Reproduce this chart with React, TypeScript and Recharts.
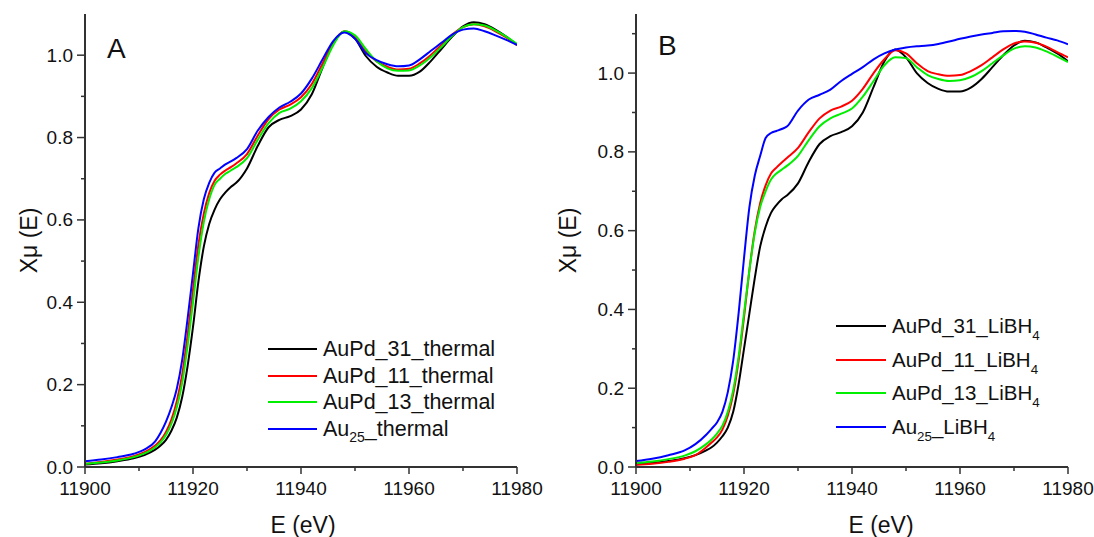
import React from "react";
import { LineChart, Line, XAxis, YAxis } from "recharts";

const energy = [
  11900, 11903, 11906, 11909, 11911, 11913, 11914, 11915, 11916, 11917, 11918, 11919, 11920,
  11921, 11922, 11923, 11924, 11925, 11926, 11927, 11928, 11930, 11932, 11934, 11936, 11938,
  11940, 11942, 11944, 11946, 11948, 11950, 11952, 11954, 11956, 11958, 11960, 11962, 11964,
  11966, 11968, 11970, 11972, 11974, 11976, 11978, 11980,
];

// panel A — thermal
const auPd31Thermal = [
  0.006, 0.009, 0.014, 0.021, 0.029, 0.042, 0.052, 0.066, 0.088, 0.12, 0.17, 0.245, 0.34,
  0.45, 0.535, 0.59, 0.625, 0.65, 0.667, 0.68, 0.69, 0.725, 0.78, 0.825, 0.843, 0.852,
  0.868, 0.905, 0.97, 1.03, 1.057, 1.04, 0.998, 0.972, 0.958, 0.95, 0.95, 0.96, 0.985,
  1.015, 1.045, 1.07, 1.08, 1.075, 1.062, 1.045, 1.025,
];
const auPd11Thermal = [
  0.008, 0.012, 0.018, 0.026, 0.036, 0.052, 0.065, 0.085, 0.115, 0.16, 0.225, 0.32, 0.43,
  0.54, 0.615, 0.665, 0.695, 0.71, 0.72, 0.728, 0.737, 0.76, 0.805, 0.845, 0.868, 0.88,
  0.898, 0.93, 0.98, 1.03, 1.058, 1.045, 1.01, 0.985, 0.972, 0.965, 0.967, 0.98, 1.0,
  1.025, 1.05, 1.068, 1.075, 1.07, 1.058, 1.043, 1.025,
];
const auPd13Thermal = [
  0.008, 0.011, 0.016, 0.024, 0.033, 0.048, 0.06, 0.078, 0.105, 0.145, 0.205, 0.295, 0.4,
  0.51, 0.595, 0.65, 0.685, 0.7, 0.712, 0.72, 0.728, 0.75, 0.795, 0.835, 0.86, 0.87,
  0.888, 0.92, 0.97, 1.025, 1.058, 1.048, 1.015, 0.985, 0.968, 0.962, 0.963, 0.975, 0.995,
  1.02, 1.047, 1.068, 1.075, 1.072, 1.06, 1.045, 1.027,
];
const au25Thermal = [
  0.014, 0.018, 0.024, 0.032, 0.042, 0.062, 0.083, 0.11, 0.145, 0.19, 0.26, 0.36, 0.47,
  0.58, 0.65, 0.69, 0.715, 0.725, 0.735, 0.742, 0.75, 0.772, 0.817, 0.85, 0.873, 0.887,
  0.907, 0.943, 0.99, 1.035, 1.055, 1.04, 1.005, 0.988, 0.978, 0.973, 0.975, 0.99, 1.01,
  1.03, 1.05, 1.062, 1.065, 1.058, 1.048, 1.037, 1.025,
];

// panel B — LiBH4
const auPd31LiBH4 = [
  0.008, 0.01, 0.015, 0.022, 0.03, 0.042, 0.05, 0.062, 0.078, 0.1, 0.14, 0.21, 0.3,
  0.39, 0.48, 0.56, 0.61, 0.645, 0.665, 0.68, 0.69, 0.72, 0.775, 0.82, 0.84, 0.85,
  0.865, 0.9, 0.965, 1.03, 1.06, 1.04, 1.0, 0.975, 0.96, 0.953, 0.953, 0.963, 0.985,
  1.015, 1.045, 1.07, 1.082, 1.078, 1.065, 1.05, 1.03,
];
const auPd11LiBH4 = [
  0.005, 0.008, 0.013, 0.021, 0.03, 0.05, 0.062, 0.075, 0.095, 0.13, 0.185, 0.27, 0.38,
  0.5, 0.6, 0.67, 0.715, 0.745, 0.76, 0.773, 0.785, 0.81, 0.85, 0.885, 0.905, 0.915,
  0.93, 0.96, 1.0, 1.035, 1.058, 1.05, 1.025, 1.005, 0.997, 0.993, 0.995, 1.005, 1.02,
  1.04, 1.06, 1.075, 1.08, 1.077, 1.067, 1.053, 1.04,
];
const auPd13LiBH4 = [
  0.01, 0.014, 0.02, 0.029, 0.04, 0.058, 0.07, 0.085, 0.105, 0.14, 0.195, 0.28, 0.39,
  0.5, 0.595, 0.66, 0.7, 0.73, 0.745, 0.755, 0.765, 0.79, 0.83, 0.865, 0.885, 0.897,
  0.91, 0.94, 0.98, 1.02, 1.04, 1.038, 1.015, 0.995, 0.985, 0.98, 0.982, 0.99, 1.005,
  1.025, 1.045, 1.062, 1.068, 1.065, 1.055, 1.042, 1.028,
];
const au25LiBH4 = [
  0.015, 0.021, 0.03, 0.042, 0.058, 0.082, 0.097, 0.113, 0.14, 0.19, 0.27, 0.39, 0.53,
  0.66, 0.74, 0.79, 0.835, 0.848, 0.853, 0.858, 0.865, 0.905, 0.933, 0.945, 0.958, 0.98,
  0.998, 1.015, 1.035, 1.05, 1.06, 1.065, 1.068, 1.07, 1.074, 1.08, 1.087, 1.093, 1.098,
  1.102, 1.106, 1.107, 1.105, 1.098, 1.09, 1.083, 1.073,
];

const xTicks = [11900, 11910, 11920, 11930, 11940, 11950, 11960, 11970, 11980];
const yTicksA = [0, 0.1, 0.2, 0.3, 0.4, 0.5, 0.6, 0.7, 0.8, 0.9, 1.0];
const yTicksB = [0, 0.1, 0.2, 0.3, 0.4, 0.5, 0.6, 0.7, 0.8, 0.9, 1.0, 1.1];

const colors = ["#000000", "#ff0000", "#00ee00", "#0000ff"];
const keys = ["s31", "s11", "s13", "s25"];

const rowsA = energy.map((e, i) => ({
  e,
  s31: auPd31Thermal[i],
  s11: auPd11Thermal[i],
  s13: auPd13Thermal[i],
  s25: au25Thermal[i],
}));
const rowsB = energy.map((e, i) => ({
  e,
  s31: auPd31LiBH4[i],
  s11: auPd11LiBH4[i],
  s13: auPd13LiBH4[i],
  s25: au25LiBH4[i],
}));

const font = '"Liberation Sans", Arial, Helvetica, sans-serif';
const axisColor = "#333";

function YTick(props: any) {
  const { x, y, payload } = props;
  const v = payload.value;
  const major = Math.round(v * 10) % 2 === 0;
  return (
    <g>
      <line x1={x - (major ? 8 : 4)} y1={y} x2={x} y2={y} stroke={axisColor} strokeWidth={1.5} />
      {major && (
        <text x={x - 12} y={y} textAnchor="end" dominantBaseline="central" fontSize={19} fontFamily={font} fill="#111">
          {v.toFixed(1)}
        </text>
      )}
    </g>
  );
}

function XTick(props: any) {
  const { x, y, payload } = props;
  const v = payload.value;
  const major = v % 20 === 0;
  return (
    <g>
      <line x1={x} y1={y} x2={x} y2={y + (major ? 7 : 4)} stroke={axisColor} strokeWidth={1.5} />
      {major && (
        <text x={x} y={y + 21} textAnchor="middle" dominantBaseline="central" fontSize={19} fontFamily={font} fill="#111">
          {v}
        </text>
      )}
    </g>
  );
}

function Panel({ rows, yMax, yTicks, yAxisWidth, right, labelDx, labelX, letter }: any) {
  return (
    <LineChart
      width={547}
      height={537}
      data={rows}
      margin={{ top: 14, right, bottom: 0, left: 0 }}
    >
      <XAxis
        dataKey="e"
        type="number"
        domain={[11900, 11980]}
        ticks={xTicks}
        height={70}
        tickSize={0}
        tickMargin={0}
        tickLine={false}
        tick={<XTick />}
        axisLine={{ stroke: axisColor, strokeWidth: 2 }}
        allowDataOverflow
        label={{
          value: "E (eV)",
          position: "insideBottom",
          offset: 4,
          dx: labelDx,
          style: { fontSize: 23, fontFamily: font, fill: "#111" },
        }}
      />
      <XAxis
        xAxisId="top"
        orientation="top"
        dataKey="e"
        type="number"
        domain={[11900, 11980]}
        height={0}
        tick={false}
        tickLine={false}
        axisLine={{ stroke: axisColor, strokeWidth: 2 }}
      />
      <YAxis
        type="number"
        domain={[0, yMax]}
        ticks={yTicks}
        width={yAxisWidth}
        tickSize={0}
        tickMargin={0}
        tickLine={false}
        tick={<YTick />}
        axisLine={{ stroke: axisColor, strokeWidth: 2 }}
        allowDataOverflow
        label={{
          value: "Xμ (E)",
          angle: -90,
          position: "insideLeft",
          offset: labelX,
          style: { textAnchor: "middle", fontSize: 23, fontFamily: font, fill: "#111" },
        }}
      />
      <YAxis
        yAxisId="right"
        orientation="right"
        type="number"
        domain={[0, yMax]}
        width={0}
        tick={false}
        tickLine={false}
        axisLine={{ stroke: axisColor, strokeWidth: 2 }}
      />
      {keys.map((k, i) => (
        <Line
          key={k}
          type="monotone"
          dataKey={k}
          stroke={colors[i]}
          strokeWidth={2}
          dot={false}
          activeDot={false}
          isAnimationActive={false}
        />
      ))}
      <text x={yAxisWidth + 22} y={letter === "A" ? 58 : 55} fontSize={28} fontFamily={font} fill="#111">
        {letter}
      </text>
    </LineChart>
  );
}

function LegendBox({ items, left, tops, fontSize, lineWidth }: any) {
  return (
    <>
      {items.map((label: React.ReactNode, i: number) => (
        <div
          key={i}
          style={{
            position: "absolute",
            left,
            top: tops[i] - 14,
            height: 28,
            display: "flex",
            alignItems: "center",
            fontFamily: font,
            fontSize,
            color: "#111",
            whiteSpace: "nowrap",
          }}
        >
          <span style={{ display: "inline-block", width: lineWidth, height: 2, background: colors[i], marginRight: 6 }} />
          <span>{label}</span>
        </div>
      ))}
    </>
  );
}

const sub = (t: string) => (
  <span style={{ fontSize: "0.65em", position: "relative", top: "0.5em" }}>{t}</span>
);

const legendA = [
  "AuPd_31_thermal",
  "AuPd_11_thermal",
  "AuPd_13_thermal",
  <>Au{sub("25")}_thermal</>,
];
const legendB = [
  <>AuPd_31_LiBH{sub("4")}</>,
  <>AuPd_11_LiBH{sub("4")}</>,
  <>AuPd_13_LiBH{sub("4")}</>,
  <>Au{sub("25")}_LiBH{sub("4")}</>,
];

export default function App() {
  return (
    <div style={{ position: "absolute", left: 0, top: 0, width: 1094, height: 537, background: "#fff" }}>
      <div style={{ position: "absolute", left: 0, top: 0 }}>
        <Panel rows={rowsA} yMax={1.1} yTicks={yTicksA} yAxisWidth={85} right={30} labelDx={2} labelX={29} letter="A" />
      </div>
      <div style={{ position: "absolute", left: 547, top: 0 }}>
        <Panel rows={rowsB} yMax={1.15} yTicks={yTicksB} yAxisWidth={89} right={26} labelDx={29} labelX={21} letter="B" />
      </div>
      <LegendBox items={legendA} left={268} tops={[349, 376, 402, 429]} fontSize={21.5} lineWidth={49} />
      <LegendBox items={legendB} left={836} tops={[326, 360, 393, 427]} fontSize={20.5} lineWidth={50} />
    </div>
  );
}
